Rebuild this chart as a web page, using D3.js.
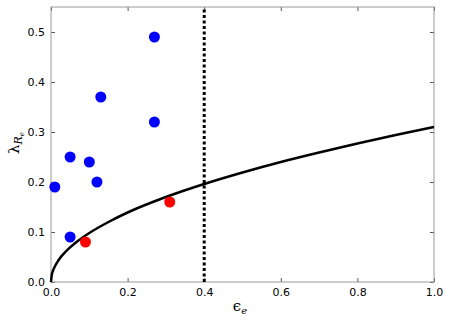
<!DOCTYPE html>
<head>
<title>Lambda vs epsilon</title>
<script src="https://d3js.org/d3.v7.min.js"></script>
<style>
  body { margin: 0; background: #fff; }
  text { font-family: "DejaVu Sans", sans-serif; }
</style>
</head>
<body>
<div id="home"></div>
<script>
// data
const blueX = [0.01, 0.05, 0.10, 0.12, 0.05, 0.13, 0.27, 0.27];
const blueY = [0.19, 0.25, 0.24, 0.20, 0.09, 0.37, 0.49, 0.32];
const redX = [0.09, 0.31];
const redY = [0.08, 0.16];
const curveX = [0, 0.002, 0.005, 0.01, 0.02, 0.04, 0.07, 0.1, 0.15, 0.2, 0.3, 0.4, 0.5, 0.6, 0.7, 0.8, 0.9, 1.0];
const curveY = [0, 0.014, 0.022, 0.031, 0.044, 0.062, 0.082, 0.098, 0.120, 0.139, 0.170, 0.196, 0.219, 0.240, 0.259, 0.277, 0.294, 0.310];
const cutX = 0.4;
const xTicks = [0.0, 0.2, 0.4, 0.6, 0.8, 1.0];
const yTicks = [0.0, 0.1, 0.2, 0.3, 0.4, 0.5];

const w = 450, h = 322;
const m = {left: 51, right: 16, top: 7, bottom: 40};

const svg = d3.select("#home").append("svg")
  .attr("width", w).attr("height", h);

const x = d3.scaleLinear().domain([0, 1]).range([m.left, w - m.right]);
const y = d3.scaleLinear().domain([0, 0.55]).range([h - m.bottom, m.top]);

// ticks inside, on all four sides
svg.append("g").attr("transform", `translate(0,${h - m.bottom})`)
  .call(d3.axisBottom(x).tickValues(xTicks).tickFormat(d3.format(".1f")).tickSizeInner(-4).tickSizeOuter(0).tickPadding(6));
svg.append("g").attr("transform", `translate(${m.left},0)`)
  .call(d3.axisLeft(y).tickValues(yTicks).tickFormat(d3.format(".1f")).tickSizeInner(-4).tickSizeOuter(0).tickPadding(6));
svg.append("g").attr("transform", `translate(0,${m.top})`)
  .call(d3.axisTop(x).tickValues(xTicks).tickFormat("").tickSizeInner(-4).tickSizeOuter(0));
svg.append("g").attr("transform", `translate(${w - m.right},0)`)
  .call(d3.axisRight(y).tickValues(yTicks).tickFormat("").tickSizeInner(-4).tickSizeOuter(0));

svg.selectAll(".domain").remove();
svg.selectAll(".tick line").attr("stroke", "#555");
svg.selectAll(".tick text").attr("font-size", 11).attr("fill", "#000");

svg.append("rect")
  .attr("x", m.left).attr("y", m.top)
  .attr("width", w - m.left - m.right).attr("height", h - m.top - m.bottom)
  .attr("fill", "none").attr("stroke", "#999").attr("stroke-width", 1);

// dotted cut
svg.append("line")
  .attr("x1", x(cutX)).attr("x2", x(cutX))
  .attr("y1", y(0)).attr("y2", y(0.55))
  .attr("stroke", "#000").attr("stroke-width", 3)
  .attr("stroke-dasharray", "3,2.5");

// curve
const pts = curveX.map((d, i) => [d, curveY[i]]);
svg.append("path")
  .datum(pts)
  .attr("fill", "none").attr("stroke", "#000").attr("stroke-width", 2.5)
  .attr("d", d3.line().x(d => x(d[0])).y(d => y(d[1])).curve(d3.curveMonotoneX));

// points
svg.selectAll("circle.blue")
  .data(blueX.map((d, i) => [d, blueY[i]]))
  .enter().append("circle").attr("class", "blue")
  .attr("cx", d => x(d[0])).attr("cy", d => y(d[1])).attr("r", 5.5)
  .attr("fill", "#0000ff");
svg.selectAll("circle.red")
  .data(redX.map((d, i) => [d, redY[i]]))
  .enter().append("circle").attr("class", "red")
  .attr("cx", d => x(d[0])).attr("cy", d => y(d[1])).attr("r", 5.5)
  .attr("fill", "#ff0000");

// axis labels
const xl = svg.append("text")
  .attr("x", 240).attr("y", 311)
  .attr("text-anchor", "middle")
  .style("font-family", "DejaVu Serif, serif").attr("font-size", 15);
xl.append("tspan").text("\u03f5");
xl.append("tspan").attr("font-size", 10).attr("dy", 3).attr("font-style", "italic").text("e");

const yl = svg.append("text")
  .attr("transform", "translate(19,143) rotate(-90)")
  .attr("text-anchor", "middle")
  .style("font-family", "DejaVu Serif, serif").attr("font-size", 15);
yl.append("tspan").text("\u03bb");
yl.append("tspan").attr("font-size", 11).attr("dy", 3).attr("font-style", "italic").text("R");
yl.append("tspan").attr("font-size", 7).attr("dy", 2).attr("font-style", "italic").text("e");
</script>
</body>
